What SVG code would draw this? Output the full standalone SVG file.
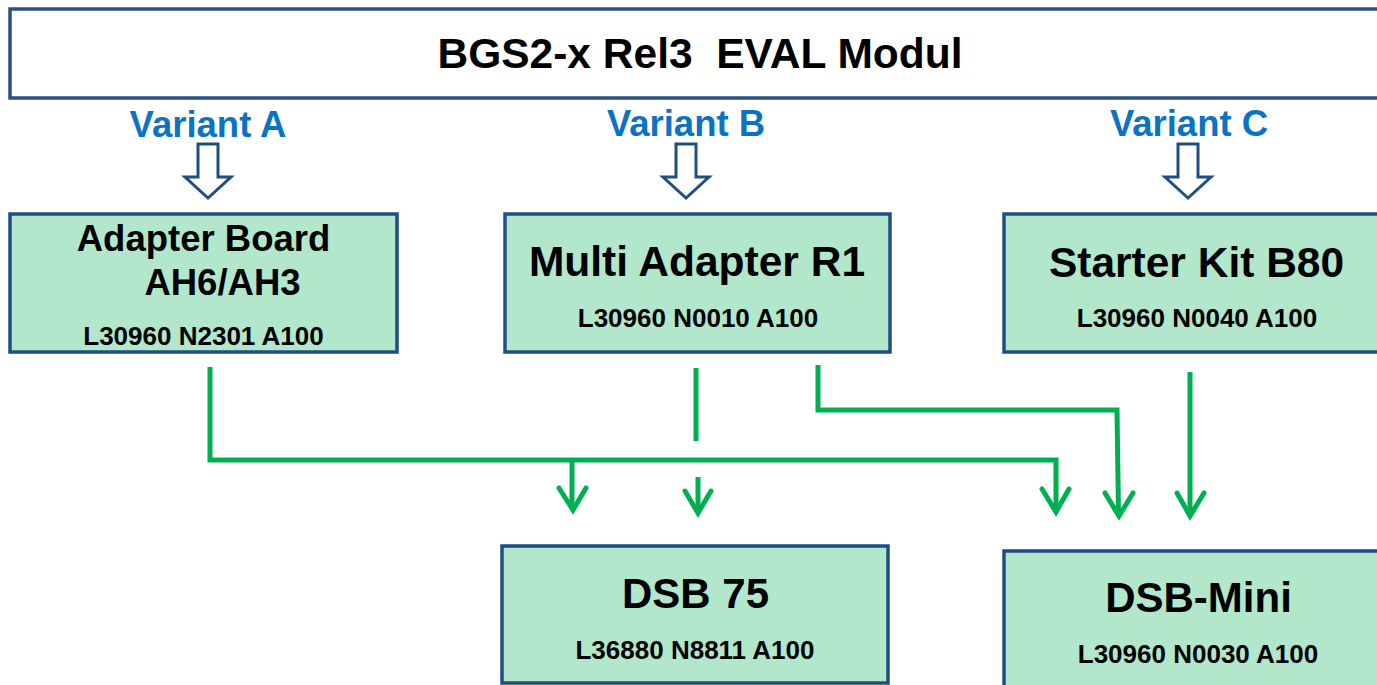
<svg xmlns="http://www.w3.org/2000/svg" width="1377" height="685" viewBox="0 0 1377 685">
<style>
.box{fill:#B2E7CB;stroke:#1F4E85;stroke-width:3.5}
.hdr{fill:#FFFFFF;stroke:#2A5187;stroke-width:3.5}
.t{font-family:"Liberation Sans",Arial,sans-serif;font-weight:bold;fill:#000;text-anchor:middle}
.v{font-family:"Liberation Sans",Arial,sans-serif;font-weight:bold;fill:#0B72C4;text-anchor:middle;font-size:36.5px}
.ha{fill:#FFFFFF;stroke:#1F4E85;stroke-width:3}
.ln{fill:none;stroke:#00B050;stroke-width:5}
.ah{fill:none;stroke:#00B050;stroke-width:5;stroke-linecap:round;stroke-linejoin:miter}
</style>
<rect width="1377" height="685" fill="#FFFFFF"/>
<g id="header">
<rect class="hdr" x="10" y="9" width="1390" height="89"/>
<text class="t" x="700" y="68" font-size="42.5" xml:space="preserve">BGS2-x Rel3  EVAL Modul</text>
</g>
<g id="variantA">
<text class="v" x="208" y="137">Variant A</text>
<path class="ha" d="M198,144 H218 V177 H231 L208,198 L185,177 H198 Z"/>
</g>
<g id="variantB">
<text class="v" x="686" y="136">Variant B</text>
<path class="ha" d="M676,144 H696 V177 H709 L686,198 L663,177 H676 Z"/>
</g>
<g id="variantC">
<text class="v" x="1189" y="136">Variant C</text>
<path class="ha" d="M1178,144 H1198 V177 H1211 L1188,198 L1165,177 H1178 Z"/>
</g>
<g id="adapterBoard">
<rect class="box" x="10" y="214" width="387" height="138"/>
<text class="t" x="203.5" y="251" font-size="36.5">Adapter Board</text>
<text class="t" x="222.5" y="295" font-size="36.5">AH6/AH3</text>
<text class="t" x="203.5" y="345" font-size="26">L30960 N2301 A100</text>
</g>
<g id="multiAdapter">
<rect class="box" x="505" y="214" width="385" height="138"/>
<text class="t" x="697" y="276" font-size="42.5">Multi Adapter R1</text>
<text class="t" x="698" y="327" font-size="26">L30960 N0010 A100</text>
</g>
<g id="starterKit">
<rect class="box" x="1004" y="214" width="400" height="138"/>
<text class="t" x="1196.5" y="277" font-size="42.5">Starter Kit B80</text>
<text class="t" x="1197" y="327" font-size="26">L30960 N0040 A100</text>
</g>
<g id="dsb75">
<rect class="box" x="502" y="546" width="386" height="137"/>
<text class="t" x="695.5" y="608" font-size="42">DSB 75</text>
<text class="t" x="695" y="659" font-size="26">L36880 N8811 A100</text>
</g>
<g id="dsbMini">
<rect class="box" x="1004" y="551" width="400" height="150"/>
<text class="t" x="1198.5" y="612" font-size="42">DSB-Mini</text>
<text class="t" x="1198" y="663" font-size="26">L30960 N0030 A100</text>
</g>
<g id="connectors">
<path class="ln" d="M210,367 V460 H1056 V510"/>
<path class="ln" d="M572,460 V508"/>
<path class="ln" d="M696,368 V441"/>
<path class="ln" d="M698,477 V512"/>
<path class="ln" d="M818,365 V410 H1117 L1118.5,514"/>
<path class="ln" d="M1190,372 V514"/>
<polyline class="ah" points="559,488 573,510 586,488"/>
<polyline class="ah" points="685,491 698,513 711,491"/>
<polyline class="ah" points="1042,489 1056,512 1069,489"/>
<polyline class="ah" points="1105,493 1119,516 1133,493"/>
<polyline class="ah" points="1177,493 1190,516 1204,493"/>
</g>
</svg>
